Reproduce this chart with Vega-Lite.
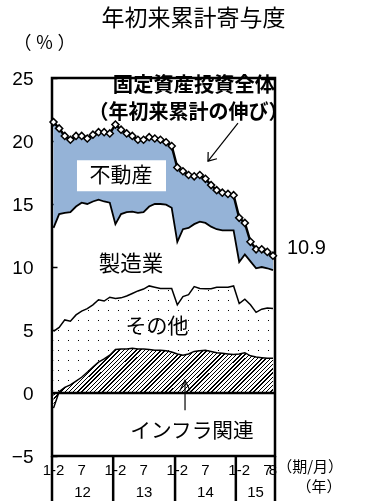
{
"$schema":"https://vega.github.io/schema/vega-lite/v6.json",
"width":223,"height":378,
"autosize":"none",
"padding":{"left":52,"top":78,"right":92,"bottom":45},
"title":{"text":"年初来累計寄与度","font":"Noto Sans CJK JP","fontSize":23,"fontWeight":"normal","color":"#000","anchor":"middle","frame":"group","dx":30,"offset":3},
"config":{"view":{"stroke":"#000","strokeWidth":2.5},"font":"Liberation Sans"},
"datasets":{
"fai":[
{"i":0,"period":"2012/1-2","infra_top":-1.2,"other_top":4.9,"mfg_top":13.1,"total":21.5},
{"i":1,"period":"2012/3","infra_top":0.1,"other_top":5.2,"mfg_top":14.2,"total":21.0},
{"i":2,"period":"2012/4","infra_top":0.45,"other_top":5.8,"mfg_top":14.3,"total":20.4},
{"i":3,"period":"2012/5","infra_top":0.65,"other_top":5.7,"mfg_top":14.35,"total":20.1},
{"i":4,"period":"2012/6","infra_top":0.95,"other_top":6.2,"mfg_top":14.8,"total":20.4},
{"i":5,"period":"2012/7","infra_top":1.25,"other_top":6.5,"mfg_top":15.1,"total":20.4},
{"i":6,"period":"2012/8","infra_top":1.65,"other_top":6.7,"mfg_top":15.0,"total":20.2},
{"i":7,"period":"2012/9","infra_top":2.05,"other_top":7.0,"mfg_top":15.2,"total":20.5},
{"i":8,"period":"2012/10","infra_top":2.45,"other_top":7.4,"mfg_top":15.35,"total":20.7},
{"i":9,"period":"2012/11","infra_top":2.7,"other_top":7.3,"mfg_top":15.2,"total":20.7},
{"i":10,"period":"2012/12","infra_top":3.0,"other_top":7.6,"mfg_top":15.1,"total":20.6},
{"i":11,"period":"2013/1-2","infra_top":3.45,"other_top":7.5,"mfg_top":13.4,"total":21.3},
{"i":12,"period":"2013/3","infra_top":3.5,"other_top":7.55,"mfg_top":14.2,"total":20.9},
{"i":13,"period":"2013/4","infra_top":3.5,"other_top":7.7,"mfg_top":14.35,"total":20.6},
{"i":14,"period":"2013/5","infra_top":3.55,"other_top":7.9,"mfg_top":14.4,"total":20.4},
{"i":15,"period":"2013/6","infra_top":3.5,"other_top":8.1,"mfg_top":14.3,"total":20.1},
{"i":16,"period":"2013/7","infra_top":3.5,"other_top":8.25,"mfg_top":14.35,"total":20.1},
{"i":17,"period":"2013/8","infra_top":3.45,"other_top":8.5,"mfg_top":14.8,"total":20.3},
{"i":18,"period":"2013/9","infra_top":3.4,"other_top":8.4,"mfg_top":15.0,"total":20.2},
{"i":19,"period":"2013/10","infra_top":3.4,"other_top":8.3,"mfg_top":15.0,"total":20.1},
{"i":20,"period":"2013/11","infra_top":3.35,"other_top":8.3,"mfg_top":14.95,"total":19.9},
{"i":21,"period":"2013/12","infra_top":3.25,"other_top":8.3,"mfg_top":14.7,"total":19.6},
{"i":22,"period":"2014/1-2","infra_top":3.1,"other_top":7.0,"mfg_top":12.0,"total":17.9},
{"i":23,"period":"2014/3","infra_top":3.0,"other_top":7.65,"mfg_top":13.0,"total":17.6},
{"i":24,"period":"2014/4","infra_top":3.1,"other_top":7.8,"mfg_top":13.1,"total":17.3},
{"i":25,"period":"2014/5","infra_top":3.3,"other_top":8.45,"mfg_top":13.4,"total":17.2},
{"i":26,"period":"2014/6","infra_top":3.35,"other_top":8.3,"mfg_top":13.6,"total":17.3},
{"i":27,"period":"2014/7","infra_top":3.4,"other_top":8.27,"mfg_top":13.5,"total":17.0},
{"i":28,"period":"2014/8","infra_top":3.3,"other_top":8.27,"mfg_top":13.2,"total":16.5},
{"i":29,"period":"2014/9","infra_top":3.2,"other_top":8.4,"mfg_top":13.0,"total":16.1},
{"i":30,"period":"2014/10","infra_top":3.15,"other_top":8.4,"mfg_top":12.9,"total":15.9},
{"i":31,"period":"2014/11","infra_top":3.1,"other_top":8.4,"mfg_top":12.9,"total":15.8},
{"i":32,"period":"2014/12","infra_top":3.05,"other_top":8.5,"mfg_top":12.9,"total":15.7},
{"i":33,"period":"2015/1-2","infra_top":3.1,"other_top":7.1,"mfg_top":10.4,"total":13.9},
{"i":34,"period":"2015/3","infra_top":3.2,"other_top":7.45,"mfg_top":11.0,"total":13.5},
{"i":35,"period":"2015/4","infra_top":2.95,"other_top":7.0,"mfg_top":10.45,"total":12.0},
{"i":36,"period":"2015/5","infra_top":2.85,"other_top":6.4,"mfg_top":9.9,"total":11.4},
{"i":37,"period":"2015/6","infra_top":2.8,"other_top":6.65,"mfg_top":10.0,"total":11.4},
{"i":38,"period":"2015/7","infra_top":2.75,"other_top":6.75,"mfg_top":9.9,"total":11.2},
{"i":39,"period":"2015/8","infra_top":2.75,"other_top":6.7,"mfg_top":9.75,"total":10.9}
],
"months":[{"i":0,"lab":"1-2"},{"i":5,"lab":"7"},{"i":11,"lab":"1-2"},{"i":16,"lab":"7"},{"i":22,"lab":"1-2"},{"i":27,"lab":"7"},{"i":33,"lab":"1-2"},{"i":38,"lab":"7"},{"i":39,"lab":"8"}],
"bounds":[{"b":-0.27},{"b":10.6},{"b":21.6},{"b":32.4},{"b":39.36}],
"years":[{"year":"12","mid":5.15},{"year":"13","mid":16.08},{"year":"14","mid":27.0},{"year":"15","mid":35.9}]
},
"layer":[
{"data":{"name":"fai"},
"encoding":{"x":{"field":"i","type":"quantitative","title":"期/月","scale":{"domain":[-0.27,39.36],"nice":false,"zero":false},"axis":null}},
"layer":[
{"mark":{"type":"area","fill":"#95B3D7"},
"encoding":{"y":{"field":"total","type":"quantitative","scale":{"domain":[-5,25],"nice":false,"zero":false},
"axis":{"title":"（ ％ ）","values":[-5,0,5,10,15,20,25],"domain":false,"grid":false,"ticks":true,"tickSize":-5,"tickWidth":1.5,"tickColor":"#000","labelFont":"Liberation Sans","labelFontSize":19,"labelColor":"#000","labelPadding":24,"titleAngle":0,"titleAlign":"center","titleBaseline":"middle","titleX":-8,"titleY":-35,"titleFont":"Noto Sans CJK JP","titleFontSize":18,"titleFontWeight":"normal","titleColor":"#000"}},
"y2":{"field":"mfg_top"}}},
{"mark":{"type":"area","fill":{"gradient":"linear","x1":0,"y1":0,"x2":0,"y2":1,"stops":[
{"offset":0,"color":"#fff"},
{"offset":0.03,"color":"#fff"},{"offset":0.03,"color":"#000"},{"offset":0.042,"color":"#000"},{"offset":0.042,"color":"#fff"},
{"offset":0.112,"color":"#fff"},{"offset":0.112,"color":"#000"},{"offset":0.124,"color":"#000"},{"offset":0.124,"color":"#fff"},
{"offset":0.194,"color":"#fff"},{"offset":0.194,"color":"#000"},{"offset":0.206,"color":"#000"},{"offset":0.206,"color":"#fff"},
{"offset":0.276,"color":"#fff"},{"offset":0.276,"color":"#000"},{"offset":0.288,"color":"#000"},{"offset":0.288,"color":"#fff"},
{"offset":0.358,"color":"#fff"},{"offset":0.358,"color":"#000"},{"offset":0.37,"color":"#000"},{"offset":0.37,"color":"#fff"},
{"offset":0.44,"color":"#fff"},{"offset":0.44,"color":"#000"},{"offset":0.452,"color":"#000"},{"offset":0.452,"color":"#fff"},
{"offset":0.522,"color":"#fff"},{"offset":0.522,"color":"#000"},{"offset":0.534,"color":"#000"},{"offset":0.534,"color":"#fff"},
{"offset":0.604,"color":"#fff"},{"offset":0.604,"color":"#000"},{"offset":0.616,"color":"#000"},{"offset":0.616,"color":"#fff"},
{"offset":0.686,"color":"#fff"},{"offset":0.686,"color":"#000"},{"offset":0.698,"color":"#000"},{"offset":0.698,"color":"#fff"},
{"offset":0.768,"color":"#fff"},{"offset":0.768,"color":"#000"},{"offset":0.78,"color":"#000"},{"offset":0.78,"color":"#fff"},
{"offset":0.85,"color":"#fff"},{"offset":0.85,"color":"#000"},{"offset":0.862,"color":"#000"},{"offset":0.862,"color":"#fff"},
{"offset":0.932,"color":"#fff"},{"offset":0.932,"color":"#000"},{"offset":0.944,"color":"#000"},{"offset":0.944,"color":"#fff"},
{"offset":1,"color":"#fff"}]}},
"encoding":{"y":{"field":"other_top","type":"quantitative"},"y2":{"field":"infra_top"}}},
{"mark":{"type":"area","blend":"lighten","fill":{"gradient":"linear","x1":0,"y1":0,"x2":1,"y2":0,"stops":[
{"offset":0,"color":"#fff"},
{"offset":0.02,"color":"#fff"},{"offset":0.02,"color":"#000"},{"offset":0.027,"color":"#000"},{"offset":0.027,"color":"#fff"},
{"offset":0.0655,"color":"#fff"},{"offset":0.0655,"color":"#000"},{"offset":0.0725,"color":"#000"},{"offset":0.0725,"color":"#fff"},
{"offset":0.111,"color":"#fff"},{"offset":0.111,"color":"#000"},{"offset":0.118,"color":"#000"},{"offset":0.118,"color":"#fff"},
{"offset":0.1565,"color":"#fff"},{"offset":0.1565,"color":"#000"},{"offset":0.1635,"color":"#000"},{"offset":0.1635,"color":"#fff"},
{"offset":0.202,"color":"#fff"},{"offset":0.202,"color":"#000"},{"offset":0.209,"color":"#000"},{"offset":0.209,"color":"#fff"},
{"offset":0.2475,"color":"#fff"},{"offset":0.2475,"color":"#000"},{"offset":0.2545,"color":"#000"},{"offset":0.2545,"color":"#fff"},
{"offset":0.293,"color":"#fff"},{"offset":0.293,"color":"#000"},{"offset":0.3,"color":"#000"},{"offset":0.3,"color":"#fff"},
{"offset":0.3385,"color":"#fff"},{"offset":0.3385,"color":"#000"},{"offset":0.3455,"color":"#000"},{"offset":0.3455,"color":"#fff"},
{"offset":0.384,"color":"#fff"},{"offset":0.384,"color":"#000"},{"offset":0.391,"color":"#000"},{"offset":0.391,"color":"#fff"},
{"offset":0.4295,"color":"#fff"},{"offset":0.4295,"color":"#000"},{"offset":0.4365,"color":"#000"},{"offset":0.4365,"color":"#fff"},
{"offset":0.475,"color":"#fff"},{"offset":0.475,"color":"#000"},{"offset":0.482,"color":"#000"},{"offset":0.482,"color":"#fff"},
{"offset":0.5205,"color":"#fff"},{"offset":0.5205,"color":"#000"},{"offset":0.5275,"color":"#000"},{"offset":0.5275,"color":"#fff"},
{"offset":0.566,"color":"#fff"},{"offset":0.566,"color":"#000"},{"offset":0.573,"color":"#000"},{"offset":0.573,"color":"#fff"},
{"offset":0.6115,"color":"#fff"},{"offset":0.6115,"color":"#000"},{"offset":0.6185,"color":"#000"},{"offset":0.6185,"color":"#fff"},
{"offset":0.657,"color":"#fff"},{"offset":0.657,"color":"#000"},{"offset":0.664,"color":"#000"},{"offset":0.664,"color":"#fff"},
{"offset":0.7025,"color":"#fff"},{"offset":0.7025,"color":"#000"},{"offset":0.7095,"color":"#000"},{"offset":0.7095,"color":"#fff"},
{"offset":0.748,"color":"#fff"},{"offset":0.748,"color":"#000"},{"offset":0.755,"color":"#000"},{"offset":0.755,"color":"#fff"},
{"offset":0.7935,"color":"#fff"},{"offset":0.7935,"color":"#000"},{"offset":0.8005,"color":"#000"},{"offset":0.8005,"color":"#fff"},
{"offset":0.839,"color":"#fff"},{"offset":0.839,"color":"#000"},{"offset":0.846,"color":"#000"},{"offset":0.846,"color":"#fff"},
{"offset":0.8845,"color":"#fff"},{"offset":0.8845,"color":"#000"},{"offset":0.8915,"color":"#000"},{"offset":0.8915,"color":"#fff"},
{"offset":0.93,"color":"#fff"},{"offset":0.93,"color":"#000"},{"offset":0.937,"color":"#000"},{"offset":0.937,"color":"#fff"},
{"offset":0.9755,"color":"#fff"},{"offset":0.9755,"color":"#000"},{"offset":0.9825,"color":"#000"},{"offset":0.9825,"color":"#fff"},
{"offset":1,"color":"#fff"}]}},
"encoding":{"y":{"field":"other_top","type":"quantitative"},"y2":{"field":"infra_top"}}},
{"mark":{"type":"area","fill":{"gradient":"linear","x1":0,"y1":0,"x2":1.185,"y2":0.324,"stops":[
{"offset":0,"color":"#000"},{"offset":0.005,"color":"#000"},{"offset":0.005,"color":"#fff"},{"offset":0.015,"color":"#fff"},
{"offset":0.015,"color":"#000"},{"offset":0.02,"color":"#000"},{"offset":0.02,"color":"#fff"},{"offset":0.03,"color":"#fff"},
{"offset":0.03,"color":"#000"},{"offset":0.035,"color":"#000"},{"offset":0.035,"color":"#fff"},{"offset":0.045,"color":"#fff"},
{"offset":0.045,"color":"#000"},{"offset":0.05,"color":"#000"},{"offset":0.05,"color":"#fff"},{"offset":0.06,"color":"#fff"},
{"offset":0.06,"color":"#000"},{"offset":0.065,"color":"#000"},{"offset":0.065,"color":"#fff"},{"offset":0.075,"color":"#fff"},
{"offset":0.075,"color":"#000"},{"offset":0.08,"color":"#000"},{"offset":0.08,"color":"#fff"},{"offset":0.09,"color":"#fff"},
{"offset":0.09,"color":"#000"},{"offset":0.095,"color":"#000"},{"offset":0.095,"color":"#fff"},{"offset":0.105,"color":"#fff"},
{"offset":0.105,"color":"#000"},{"offset":0.11,"color":"#000"},{"offset":0.11,"color":"#fff"},{"offset":0.12,"color":"#fff"},
{"offset":0.12,"color":"#000"},{"offset":0.125,"color":"#000"},{"offset":0.125,"color":"#fff"},{"offset":0.135,"color":"#fff"},
{"offset":0.135,"color":"#000"},{"offset":0.14,"color":"#000"},{"offset":0.14,"color":"#fff"},{"offset":0.15,"color":"#fff"},
{"offset":0.15,"color":"#000"},{"offset":0.155,"color":"#000"},{"offset":0.155,"color":"#fff"},{"offset":0.165,"color":"#fff"},
{"offset":0.165,"color":"#000"},{"offset":0.17,"color":"#000"},{"offset":0.17,"color":"#fff"},{"offset":0.18,"color":"#fff"},
{"offset":0.18,"color":"#000"},{"offset":0.185,"color":"#000"},{"offset":0.185,"color":"#fff"},{"offset":0.195,"color":"#fff"},
{"offset":0.195,"color":"#000"},{"offset":0.2,"color":"#000"},{"offset":0.2,"color":"#fff"},{"offset":0.21,"color":"#fff"},
{"offset":0.21,"color":"#000"},{"offset":0.215,"color":"#000"},{"offset":0.215,"color":"#fff"},{"offset":0.225,"color":"#fff"},
{"offset":0.225,"color":"#000"},{"offset":0.23,"color":"#000"},{"offset":0.23,"color":"#fff"},{"offset":0.24,"color":"#fff"},
{"offset":0.24,"color":"#000"},{"offset":0.245,"color":"#000"},{"offset":0.245,"color":"#fff"},{"offset":0.255,"color":"#fff"},
{"offset":0.255,"color":"#000"},{"offset":0.26,"color":"#000"},{"offset":0.26,"color":"#fff"},{"offset":0.27,"color":"#fff"},
{"offset":0.27,"color":"#000"},{"offset":0.275,"color":"#000"},{"offset":0.275,"color":"#fff"},{"offset":0.285,"color":"#fff"},
{"offset":0.285,"color":"#000"},{"offset":0.29,"color":"#000"},{"offset":0.29,"color":"#fff"},{"offset":0.3,"color":"#fff"},
{"offset":0.3,"color":"#000"},{"offset":0.305,"color":"#000"},{"offset":0.305,"color":"#fff"},{"offset":0.315,"color":"#fff"},
{"offset":0.315,"color":"#000"},{"offset":0.32,"color":"#000"},{"offset":0.32,"color":"#fff"},{"offset":0.33,"color":"#fff"},
{"offset":0.33,"color":"#000"},{"offset":0.335,"color":"#000"},{"offset":0.335,"color":"#fff"},{"offset":0.345,"color":"#fff"},
{"offset":0.345,"color":"#000"},{"offset":0.35,"color":"#000"},{"offset":0.35,"color":"#fff"},{"offset":0.36,"color":"#fff"},
{"offset":0.36,"color":"#000"},{"offset":0.365,"color":"#000"},{"offset":0.365,"color":"#fff"},{"offset":0.375,"color":"#fff"},
{"offset":0.375,"color":"#000"},{"offset":0.38,"color":"#000"},{"offset":0.38,"color":"#fff"},{"offset":0.39,"color":"#fff"},
{"offset":0.39,"color":"#000"},{"offset":0.395,"color":"#000"},{"offset":0.395,"color":"#fff"},{"offset":0.405,"color":"#fff"},
{"offset":0.405,"color":"#000"},{"offset":0.41,"color":"#000"},{"offset":0.41,"color":"#fff"},{"offset":0.42,"color":"#fff"},
{"offset":0.42,"color":"#000"},{"offset":0.425,"color":"#000"},{"offset":0.425,"color":"#fff"},{"offset":0.435,"color":"#fff"},
{"offset":0.435,"color":"#000"},{"offset":0.44,"color":"#000"},{"offset":0.44,"color":"#fff"},{"offset":0.45,"color":"#fff"},
{"offset":0.45,"color":"#000"},{"offset":0.455,"color":"#000"},{"offset":0.455,"color":"#fff"},{"offset":0.465,"color":"#fff"},
{"offset":0.465,"color":"#000"},{"offset":0.47,"color":"#000"},{"offset":0.47,"color":"#fff"},{"offset":0.48,"color":"#fff"},
{"offset":0.48,"color":"#000"},{"offset":0.485,"color":"#000"},{"offset":0.485,"color":"#fff"},{"offset":0.495,"color":"#fff"},
{"offset":0.495,"color":"#000"},{"offset":0.5,"color":"#000"},{"offset":0.5,"color":"#fff"},{"offset":0.51,"color":"#fff"},
{"offset":0.51,"color":"#000"},{"offset":0.515,"color":"#000"},{"offset":0.515,"color":"#fff"},{"offset":0.525,"color":"#fff"},
{"offset":0.525,"color":"#000"},{"offset":0.53,"color":"#000"},{"offset":0.53,"color":"#fff"},{"offset":0.54,"color":"#fff"},
{"offset":0.54,"color":"#000"},{"offset":0.545,"color":"#000"},{"offset":0.545,"color":"#fff"},{"offset":0.555,"color":"#fff"},
{"offset":0.555,"color":"#000"},{"offset":0.56,"color":"#000"},{"offset":0.56,"color":"#fff"},{"offset":0.57,"color":"#fff"},
{"offset":0.57,"color":"#000"},{"offset":0.575,"color":"#000"},{"offset":0.575,"color":"#fff"},{"offset":0.585,"color":"#fff"},
{"offset":0.585,"color":"#000"},{"offset":0.59,"color":"#000"},{"offset":0.59,"color":"#fff"},{"offset":0.6,"color":"#fff"},
{"offset":0.6,"color":"#000"},{"offset":0.605,"color":"#000"},{"offset":0.605,"color":"#fff"},{"offset":0.615,"color":"#fff"},
{"offset":0.615,"color":"#000"},{"offset":0.62,"color":"#000"},{"offset":0.62,"color":"#fff"},{"offset":0.63,"color":"#fff"},
{"offset":0.63,"color":"#000"},{"offset":0.635,"color":"#000"},{"offset":0.635,"color":"#fff"},{"offset":0.645,"color":"#fff"},
{"offset":0.645,"color":"#000"},{"offset":0.65,"color":"#000"},{"offset":0.65,"color":"#fff"},{"offset":0.66,"color":"#fff"},
{"offset":0.66,"color":"#000"},{"offset":0.665,"color":"#000"},{"offset":0.665,"color":"#fff"},{"offset":0.675,"color":"#fff"},
{"offset":0.675,"color":"#000"},{"offset":0.68,"color":"#000"},{"offset":0.68,"color":"#fff"},{"offset":0.69,"color":"#fff"},
{"offset":0.69,"color":"#000"},{"offset":0.695,"color":"#000"},{"offset":0.695,"color":"#fff"},{"offset":0.705,"color":"#fff"},
{"offset":0.705,"color":"#000"},{"offset":0.71,"color":"#000"},{"offset":0.71,"color":"#fff"},{"offset":0.72,"color":"#fff"},
{"offset":0.72,"color":"#000"},{"offset":0.725,"color":"#000"},{"offset":0.725,"color":"#fff"},{"offset":0.735,"color":"#fff"},
{"offset":0.735,"color":"#000"},{"offset":0.74,"color":"#000"},{"offset":0.74,"color":"#fff"},{"offset":0.75,"color":"#fff"},
{"offset":0.75,"color":"#000"},{"offset":0.755,"color":"#000"},{"offset":0.755,"color":"#fff"},{"offset":0.765,"color":"#fff"},
{"offset":0.765,"color":"#000"},{"offset":0.77,"color":"#000"},{"offset":0.77,"color":"#fff"},{"offset":0.78,"color":"#fff"},
{"offset":0.78,"color":"#000"},{"offset":0.785,"color":"#000"},{"offset":0.785,"color":"#fff"},{"offset":0.795,"color":"#fff"},
{"offset":0.795,"color":"#000"},{"offset":0.8,"color":"#000"},{"offset":0.8,"color":"#fff"},{"offset":0.81,"color":"#fff"},
{"offset":0.81,"color":"#000"},{"offset":0.815,"color":"#000"},{"offset":0.815,"color":"#fff"},{"offset":0.825,"color":"#fff"},
{"offset":0.825,"color":"#000"},{"offset":0.83,"color":"#000"},{"offset":0.83,"color":"#fff"},{"offset":0.84,"color":"#fff"},
{"offset":0.84,"color":"#000"},{"offset":0.845,"color":"#000"},{"offset":0.845,"color":"#fff"},{"offset":0.855,"color":"#fff"},
{"offset":0.855,"color":"#000"},{"offset":0.86,"color":"#000"},{"offset":0.86,"color":"#fff"},{"offset":0.87,"color":"#fff"},
{"offset":0.87,"color":"#000"},{"offset":0.875,"color":"#000"},{"offset":0.875,"color":"#fff"},{"offset":0.885,"color":"#fff"},
{"offset":0.885,"color":"#000"},{"offset":0.89,"color":"#000"},{"offset":0.89,"color":"#fff"},{"offset":0.9,"color":"#fff"},
{"offset":0.9,"color":"#000"},{"offset":0.905,"color":"#000"},{"offset":0.905,"color":"#fff"},{"offset":0.915,"color":"#fff"},
{"offset":0.915,"color":"#000"},{"offset":0.92,"color":"#000"},{"offset":0.92,"color":"#fff"},{"offset":0.93,"color":"#fff"},
{"offset":0.93,"color":"#000"},{"offset":0.935,"color":"#000"},{"offset":0.935,"color":"#fff"},{"offset":0.945,"color":"#fff"},
{"offset":0.945,"color":"#000"},{"offset":0.95,"color":"#000"},{"offset":0.95,"color":"#fff"},{"offset":0.96,"color":"#fff"},
{"offset":0.96,"color":"#000"},{"offset":0.965,"color":"#000"},{"offset":0.965,"color":"#fff"},{"offset":0.975,"color":"#fff"},
{"offset":0.975,"color":"#000"},{"offset":0.98,"color":"#000"},{"offset":0.98,"color":"#fff"},{"offset":0.99,"color":"#fff"},
{"offset":0.99,"color":"#000"},{"offset":0.995,"color":"#000"},{"offset":0.995,"color":"#fff"},{"offset":1,"color":"#fff"}]}},
"encoding":{"y":{"field":"infra_top","type":"quantitative"},"y2":{"datum":0}}},
{"mark":{"type":"line","color":"#000","strokeWidth":1.8},"encoding":{"y":{"field":"mfg_top","type":"quantitative"}}},
{"mark":{"type":"line","color":"#000","strokeWidth":1.5},"encoding":{"y":{"field":"other_top","type":"quantitative"}}},
{"mark":{"type":"line","color":"#000","strokeWidth":1.5},"encoding":{"y":{"field":"infra_top","type":"quantitative"}}},
{"mark":{"type":"line","color":"#000","strokeWidth":2.5},"encoding":{"y":{"field":"total","type":"quantitative"}}},
{"mark":{"type":"point","shape":"diamond","filled":true,"fill":"#fff","stroke":"#000","strokeWidth":1.5,"size":50,"opacity":1},"encoding":{"y":{"field":"total","type":"quantitative"}}}
]},
{"data":{"values":[{}]},"mark":{"type":"rule","color":"#000","strokeWidth":2.5},"encoding":{"y":{"datum":0}}},
{"data":{"name":"months"},"mark":{"type":"text","font":"Liberation Sans","fontSize":15,"color":"#000","align":"center","baseline":"middle"},"encoding":{"x":{"field":"i","type":"quantitative","axis":null},"y":{"datum":-6.14},"text":{"field":"lab"}}},
{"data":{"name":"bounds"},"mark":{"type":"rule","color":"#000","strokeWidth":2.5},"encoding":{"x":{"field":"b","type":"quantitative","axis":null},"y":{"datum":-5},"y2":{"datum":-8.7}}},
{"data":{"name":"years"},"mark":{"type":"text","font":"Liberation Sans","fontSize":15,"color":"#000","align":"center","baseline":"middle"},"encoding":{"x":{"field":"mid","type":"quantitative","axis":null},"y":{"datum":-7.89},"text":{"field":"year"}}},
{"data":{"values":[{}]},"mark":{"type":"text","text":"（期/月）","font":"Noto Sans CJK JP","fontSize":15,"color":"#000","align":"center","baseline":"middle"},"encoding":{"x":{"datum":45.6,"axis":null},"y":{"datum":-5.9}}},
{"data":{"values":[{}]},"mark":{"type":"text","text":"（年）","font":"Noto Sans CJK JP","fontSize":15,"color":"#000","align":"center","baseline":"middle"},"encoding":{"x":{"datum":47.2,"axis":null},"y":{"datum":-7.49}}},
{"data":{"values":[{}]},"mark":{"type":"rect","fill":"#fff"},"encoding":{"x":{"datum":4.17,"axis":null},"x2":{"datum":19.99},"y":{"datum":18.48},"y2":{"datum":16.02}}},
{"data":{"values":[{}]},"mark":{"type":"text","text":"不動産","font":"Noto Sans CJK JP","fontSize":21,"color":"#000","align":"center","baseline":"middle"},"encoding":{"x":{"datum":11.99,"axis":null},"y":{"datum":17.21}}},
{"data":{"values":[{}]},"mark":{"type":"text","text":"製造業","font":"Noto Sans CJK JP","fontSize":21.5,"color":"#000","align":"center","baseline":"middle"},"encoding":{"x":{"datum":13.77,"axis":null},"y":{"datum":10.14}}},
{"data":{"values":[{}]},"mark":{"type":"text","text":"その他","font":"Noto Sans CJK JP","fontSize":21,"color":"#000","align":"center","baseline":"middle"},"encoding":{"x":{"datum":18.39,"axis":null},"y":{"datum":5.22}}},
{"data":{"values":[{}]},"mark":{"type":"text","text":"インフラ関連","font":"Noto Sans CJK JP","fontSize":20.7,"color":"#000","align":"center","baseline":"middle"},"encoding":{"x":{"datum":24.6,"axis":null},"y":{"datum":-3.12}}},
{"data":{"values":[{}]},"mark":{"type":"text","text":"固定資産投資全体","font":"Noto Sans CJK JP","fontWeight":"bold","fontSize":20.3,"color":"#000","align":"center","baseline":"middle"},"encoding":{"x":{"datum":24.96,"axis":null},"y":{"datum":24.35}}},
{"data":{"values":[{}]},"mark":{"type":"text","text":"（年初来累計の伸び）","font":"Noto Sans CJK JP","fontWeight":"bold","fontSize":20,"color":"#000","align":"center","baseline":"middle"},"encoding":{"x":{"datum":24.0,"axis":null},"y":{"datum":22.2}}},
{"data":{"values":[{}]},"mark":{"type":"text","text":"10.9","font":"Liberation Sans","fontSize":20,"color":"#000","align":"left","baseline":"middle"},"encoding":{"x":{"datum":41.49,"axis":null},"y":{"datum":11.49}}},
{"data":{"values":[{}]},"mark":{"type":"rule","color":"#000","strokeWidth":1.2},"encoding":{"x":{"datum":23.37,"axis":null},"y":{"datum":-1.37},"y2":{"datum":1.0}}},
{"data":{"values":[{}]},"mark":{"type":"point","shape":"M -0.5 1 L 0 0 L 0.5 1","filled":false,"stroke":"#000","strokeWidth":1.2,"size":400,"opacity":1},"encoding":{"x":{"datum":23.37,"axis":null},"y":{"datum":1.0}}},
{"data":{"values":[{}]},"mark":{"type":"rule","color":"#000","strokeWidth":1.2},"encoding":{"x":{"datum":32.78,"axis":null},"x2":{"datum":27.45},"y":{"datum":21.42},"y2":{"datum":18.4}}},
{"data":{"values":[{}]},"mark":{"type":"point","shape":"M -0.75 1 L 0 0 L 0.75 1","filled":false,"stroke":"#000","strokeWidth":1.2,"size":220,"angle":218,"opacity":1},"encoding":{"x":{"datum":27.45,"axis":null},"y":{"datum":18.4}}}
]
}
